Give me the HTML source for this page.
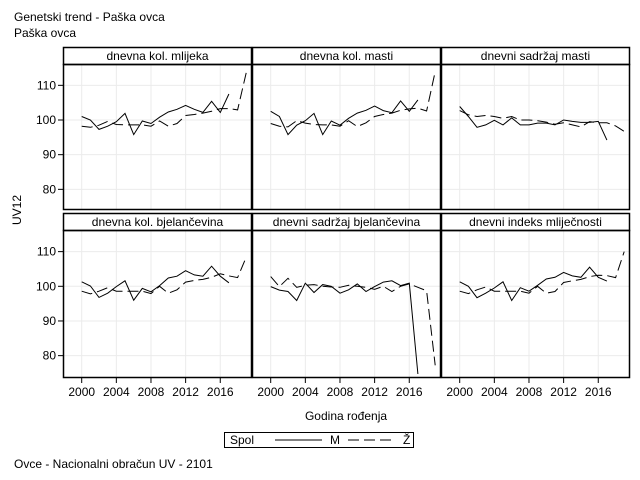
<!DOCTYPE html>
<html><head><meta charset="utf-8"><style>
body{margin:0;background:#fff;}
svg{display:block;font-family:"Liberation Sans",sans-serif;}
</style></head><body>
<svg id="c" width="640" height="480" xmlns="http://www.w3.org/2000/svg">
<text x="14" y="21" font-size="12">Genetski trend - Paška ovca</text>
<text x="14" y="37" font-size="12">Paška ovca</text>
<text x="21" y="210" font-size="12" text-anchor="middle" transform="rotate(-90 21 210)">UV12</text>
<text x="346" y="420" font-size="12" text-anchor="middle">Godina rođenja</text>
<text x="14" y="468" font-size="12">Ovce - Nacionalni obračun UV - 2101</text>
<g>
<rect x="224.5" y="432.5" width="189" height="15" fill="none" stroke="#000"/>
<text x="230" y="444" font-size="12">Spol</text>
<line x1="275" y1="440" x2="322" y2="440" stroke="#000"/>
<text x="330" y="444" font-size="12">M</text>
<line x1="348" y1="440" x2="393" y2="440" stroke="#000" stroke-dasharray="11,5"/>
<text x="403" y="444" font-size="12">Ž</text>
</g>
</svg>
<script>
const panelTitles=["dnevna kol. mlijeka","dnevna kol. masti","dnevni sadržaj masti","dnevna kol. bjelančevina","dnevni sadržaj bjelančevina","dnevni indeks mliječnosti"];
const yearsM=[2000,2001,2002,2003,2004,2005,2006,2007,2008,2009,2010,2011,2012,2013,2014,2015,2016,2017];
const yearsZ=[2000,2001,2002,2003,2004,2005,2006,2007,2008,2009,2010,2011,2012,2013,2014,2015,2016,2017,2018,2019];
const xTicks=[2000,2004,2008,2012,2016];
const yTicks=[80,90,100,110];
const m1=[101,100,97.3,98.2,99.5,101.9,95.8,99.7,99,100.8,102.3,103.1,104.2,103.1,102.2,105.4,102.2,107.5];
const z1=[98.2,97.9,98.5,99.6,98.7,98.6,98.6,98.6,98.2,99.7,98.2,99,101.3,101.6,102,102.5,103.3,103.3,102.9,113.6];
const m2=[102.5,101,95.8,98.5,99.8,101.9,95.8,99.7,98.5,100.5,102,102.8,104,102.7,102.1,105.5,102.5,105.8];
const z2=[99,98.2,98,99.8,99.1,98.7,98.6,98.6,98.2,99.8,98.1,99.2,101,101.6,102,102.8,103.2,103.4,102.6,114];
const m3=[103.9,101,97.9,98.6,99.9,98.6,100.6,98.6,98.6,99.1,99.1,98.6,100,99.6,99.3,99.3,99.6,94.2];
const z3=[102.7,101.5,101,101.3,101,100.5,101,100,100,99.8,99.4,98.8,99.2,98.6,98,99.5,99.2,99.2,98.3,96.7];
const m4=[101.3,100.1,96.8,98,99.9,101.6,96,99.4,98.4,100.2,102.4,102.9,104.5,103.3,102.9,105.8,102.9,101];
const z4=[98.6,97.8,98.6,99.6,98.6,98.6,98.6,98.6,97.9,100,98,99,101.2,101.7,102,102.6,103.6,103,102.5,108.4];
const m5=[99.9,98.9,98.5,95.9,100.9,98.2,100.5,100,98,99,100.7,98.5,99.9,101.2,101.6,100.2,100.9,74.7];
const z5=[102.8,99.9,102.3,99.7,100.3,100.5,100,99.8,99.7,100.3,100,99.7,99.1,100,98.5,100,100.7,99.7,98.7,77.2];
const m6=[101.3,100,96.7,98,99.5,101.3,95.9,99.6,98.6,100.3,102.1,102.6,104,103,102.6,105.5,102.6,101.5];
const z6=[98.6,97.9,99,99.8,98.6,98.6,98.6,98.6,98,100,98,98.5,101.1,101.6,102,102.8,103.2,103.1,102.5,110];
const seriesM=[m1,m2,m3,m4,m5,m6];
const seriesZ=[z1,z2,z3,z4,z5,z6];

const NS="http://www.w3.org/2000/svg";
const svg=document.getElementById("c");
function mk(tag,attrs,parent){const e=document.createElementNS(NS,tag);for(const k in attrs)e.setAttribute(k,attrs[k]);(parent||svg).appendChild(e);return e;}
const colX=[63,252,441], colW=189;
const rowTop=[47,213], hdrH=17, rowBottom=[210,378];
const y100=[120,286.3], pxPer=3.467;
for(let p=0;p<6;p++){
  const c=p%3,r=Math.floor(p/3);
  const x0=colX[c], pt=rowTop[r]+hdrH, pb=rowBottom[r];
  const xs=v=>x0+18.7+(v-2000)*8.66;
  const ys=v=>y100[r]-(v-100)*pxPer;
  const g=mk("g",{});
  
  
  xTicks.forEach(t=>{const l=mk("line",{x1:xs(t),x2:xs(t),y1:pt,y2:pb,stroke:"#ebebeb"},g);});
  yTicks.forEach(t=>{const l=mk("line",{x1:x0,x2:x0+colW,y1:ys(t),y2:ys(t),stroke:"#ebebeb"},g);});
  const clipId="cl"+p;
  const cp=mk("clipPath",{id:clipId},g);mk("rect",{x:x0,y:pt,width:colW,height:pb-pt},cp);
  const dm=seriesM[p].map((v,i)=>(i?"L":"M")+xs(yearsM[i]).toFixed(1)+","+ys(v).toFixed(1)).join("");
  const lm=mk("path",{d:dm,fill:"none",stroke:"#000","stroke-width":1,"clip-path":"url(#"+clipId+")"},g);
  
  const dz=seriesZ[p].map((v,i)=>(i?"L":"M")+xs(yearsZ[i]).toFixed(1)+","+ys(v).toFixed(1)).join("");
  const lz=mk("path",{d:dz,fill:"none",stroke:"#000","stroke-width":1,"stroke-dasharray":"11,5","clip-path":"url(#"+clipId+")"},g);
  
  const hb=mk("rect",{x:x0+0.5,y:rowTop[r]+0.5,width:colW-1,height:hdrH,fill:"#fff",stroke:"#000","stroke-width":1.5},g);
  
  const ht=mk("text",{x:x0+colW/2,y:rowTop[r]+13,"font-size":12,"text-anchor":"middle"},g);ht.textContent=panelTitles[p];
  
  const fr=mk("rect",{x:x0+0.5,y:pt+0.5,width:colW-1,height:pb-pt-1,fill:"none",stroke:"#000","stroke-width":1.5},g);
  
  if(c===0){yTicks.forEach(t=>{
    const tk=mk("line",{x1:x0-5,x2:x0,y1:ys(t),y2:ys(t),stroke:"#000"},g);
    const tl=mk("text",{x:x0-7,y:ys(t)+4,"font-size":12,"text-anchor":"end"},g);tl.textContent=t;
  });}
  if(r===1){xTicks.forEach(t=>{
    const tk=mk("line",{x1:xs(t),x2:xs(t),y1:pb,y2:pb+5,stroke:"#000"},g);
    const tl=mk("text",{x:xs(t),y:pb+18,"font-size":12,"text-anchor":"middle"},g);tl.textContent=t;
  });}
}
</script>
</body></html>
